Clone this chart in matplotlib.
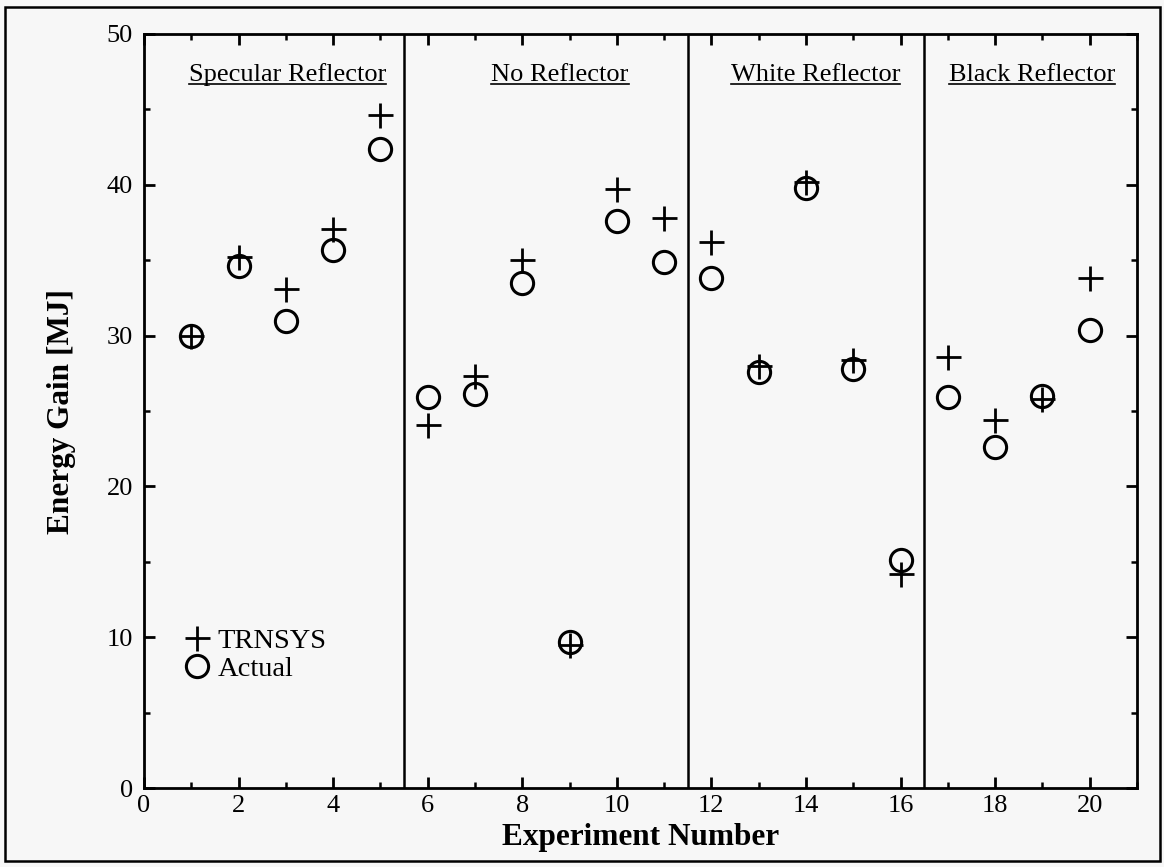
import matplotlib
matplotlib.use("Agg")
from matplotlib import pyplot as plt
from matplotlib.lines import Line2D
from matplotlib.patches import Rectangle
from matplotlib.ticker import MultipleLocator

# Energy gain per experiment, simulated (TRNSYS) vs measured
experiment = list(range(1, 21))
trnsys = [30.0, 35.2, 33.1, 37.1, 44.6, 24.1, 27.3, 35.0, 9.5, 39.7,
          37.8, 36.2, 28.0, 40.2, 28.4, 14.2, 28.6, 24.4, 25.8, 33.8]
actual = [30.0, 34.6, 31.0, 35.7, 42.4, 25.9, 26.1, 33.5, 9.7, 37.6,
          34.9, 33.8, 27.6, 39.8, 27.8, 15.1, 25.9, 22.6, 26.0, 30.4]

# reflector configurations and the experiment boundaries between them
sections = ["Specular Reflector", "No Reflector", "White Reflector", "Black Reflector"]
boundaries = [5.5, 11.5, 16.5]

plt.rcParams["font.family"] = ["Liberation Serif", "DejaVu Serif"]
bg = "#f7f7f7"

fig = plt.figure(figsize=(11.64, 8.67), dpi=100, facecolor=bg)
ax = fig.add_axes([0.1237, 0.0911, 0.8531, 0.8697], facecolor=bg)

ax.plot(experiment, trnsys, linestyle="none", marker="+", markersize=18,
        markeredgewidth=2.0, color="black", label="TRNSYS")
ax.plot(experiment, actual, linestyle="none", marker="o", markersize=16,
        markeredgewidth=2.2, markerfacecolor="none", color="black", label="Actual")

for b in boundaries:
    ax.axvline(b, color="black", linewidth=1.8)

ax.set_xlim(0, 21)
ax.set_ylim(0, 50)
ax.xaxis.set_major_locator(MultipleLocator(2))
ax.xaxis.set_minor_locator(MultipleLocator(1))
ax.yaxis.set_major_locator(MultipleLocator(10))
ax.yaxis.set_minor_locator(MultipleLocator(5))
ax.tick_params(which="both", direction="in", top=True, right=True,
               labelsize=19, color="black")
ax.tick_params(which="major", length=8, width=2)
ax.tick_params(which="minor", length=4, width=1.8)
ax.tick_params(axis="y", pad=8)
ax.tick_params(axis="x", pad=5)
for s in ax.spines.values():
    s.set_linewidth(2.0)

ax.set_xlabel("Experiment Number", fontsize=22.5, fontweight="bold")
ax.set_ylabel("Energy Gain [MJ]", fontsize=22.5, fontweight="bold")
ax.xaxis.set_label_coords(0.5, -0.047)
ax.yaxis.set_label_coords(-0.068, 0.5)

leg = ax.legend(loc="upper left", bbox_to_anchor=(0.039, 0.212), frameon=False,
                fontsize=20.5, handlelength=1.0, handletextpad=0.22,
                labelspacing=0.08, borderpad=0, borderaxespad=0)

# section headings, underlined
title_x = [3.04, 8.8, 14.2, 18.78]
titles = []
for name, tx in zip(sections, title_x):
    titles.append(ax.text(tx, 46.85, name, fontsize=19, ha="center", va="baseline"))

# frame around the whole figure
fig.patches.append(Rectangle((5 / 1164, 6 / 867), 1155 / 1164, 854 / 867,
                             transform=fig.transFigure, fill=False,
                             edgecolor="black", linewidth=1.8))

fig.canvas.draw()
renderer = fig.canvas.get_renderer()
inv = fig.transFigure.inverted()
for t in titles:
    bb = t.get_window_extent(renderer)
    base = ax.transData.transform(t.get_position())[1] - 2.5
    (x0, y0), (x1, _) = inv.transform([(bb.x0, base), (bb.x1, base)])
    fig.lines.append(Line2D([x0, x1], [y0, y0], transform=fig.transFigure,
                            color="black", linewidth=1.2))

fig.savefig("out.png", dpi=100, facecolor=bg)
